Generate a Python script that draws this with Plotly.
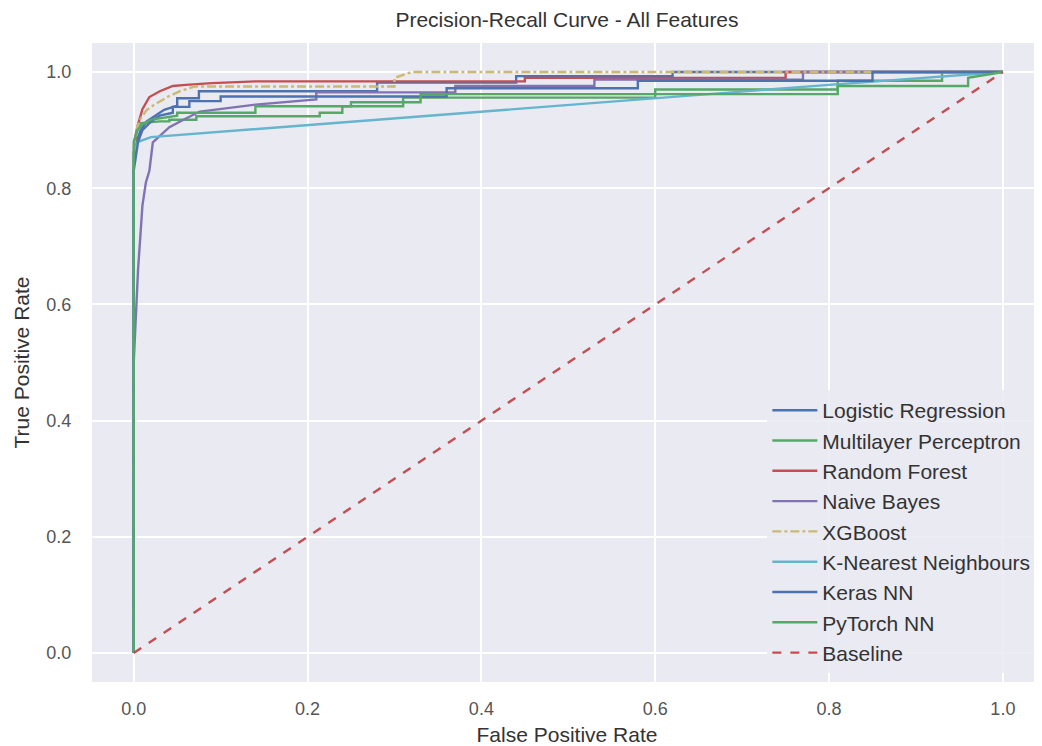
import plotly.graph_objects as go

# ---- data ----
lr_fpr = [0, 0, 0.003, 0.008, 0.015, 0.025, 0.035, 0.05, 0.05, 0.075, 0.075, 0.28, 0.28, 0.44, 0.44, 0.62, 0.62, 1.0]
lr_tpr = [0, 0.85, 0.88, 0.90, 0.915, 0.925, 0.935, 0.942, 0.955, 0.955, 0.967, 0.967, 0.982, 0.982, 0.993, 0.993, 1.0, 1.0]

mlp_fpr = [0, 0, 0.003, 0.008, 0.03, 0.041, 0.041, 0.072, 0.072, 0.214, 0.214, 0.24, 0.24, 0.31, 0.31, 0.6, 0.6, 0.81, 0.81, 0.93, 0.93, 1.0]
mlp_tpr = [0, 0.86, 0.895, 0.912, 0.915, 0.915, 0.918, 0.918, 0.924, 0.924, 0.93, 0.93, 0.941, 0.941, 0.956, 0.956, 0.97, 0.97, 0.985, 0.985, 1.0, 1.0]

rf_fpr = [0, 0, 0.002, 0.005, 0.01, 0.018, 0.03, 0.045, 0.06, 0.09, 0.14, 0.45, 0.45, 0.75, 0.75, 1.0]
rf_tpr = [0, 0.86, 0.89, 0.91, 0.936, 0.957, 0.967, 0.976, 0.978, 0.981, 0.984, 0.984, 0.99, 0.99, 1.0, 1.0]

nb_fpr = [0, 0, 0.005, 0.01, 0.014, 0.018, 0.022, 0.03, 0.041, 0.06, 0.076, 0.14, 0.21, 0.21, 0.37, 0.37, 0.53, 0.53, 0.77, 0.77, 1.0]
nb_tpr = [0, 0.5, 0.66, 0.77, 0.81, 0.83, 0.879, 0.89, 0.905, 0.92, 0.932, 0.944, 0.953, 0.965, 0.965, 0.976, 0.976, 0.987, 0.987, 1.0, 1.0]

xgb_fpr = [0, 0, 0.003, 0.008, 0.015, 0.025, 0.04, 0.055, 0.07, 0.3, 0.3, 0.32, 1.0]
xgb_tpr = [0, 0.87, 0.90, 0.92, 0.935, 0.945, 0.958, 0.968, 0.975, 0.975, 0.99, 1.0, 1.0]

knn_fpr = [0, 0, 0.005, 0.02, 0.8, 1.0]
knn_tpr = [0, 0.86, 0.88, 0.888, 0.978, 1.0]

keras_fpr = [0, 0, 0.005, 0.01, 0.02, 0.03, 0.045, 0.045, 0.064, 0.064, 0.1, 0.1, 0.36, 0.36, 0.58, 0.58, 0.85, 0.85, 1.0]
keras_tpr = [0, 0.83, 0.88, 0.90, 0.915, 0.925, 0.93, 0.94, 0.94, 0.95, 0.95, 0.958, 0.958, 0.972, 0.972, 0.985, 0.985, 1.0, 1.0]

pt_fpr = [0, 0, 0.004, 0.01, 0.02, 0.05, 0.05, 0.14, 0.14, 0.25, 0.25, 0.33, 0.33, 0.81, 0.81, 0.96, 0.96, 1.0]
pt_tpr = [0, 0.88, 0.90, 0.91, 0.918, 0.925, 0.93, 0.93, 0.941, 0.941, 0.948, 0.948, 0.962, 0.962, 0.976, 0.976, 0.99, 1.0]

base_fpr = [0, 1]
base_tpr = [0, 1]

x_ticks = [0.0, 0.2, 0.4, 0.6, 0.8, 1.0]
y_ticks = [0.0, 0.2, 0.4, 0.6, 0.8, 1.0]

series = [
    ("Logistic Regression", lr_fpr, lr_tpr, "#4C72B0", "solid"),
    ("Multilayer Perceptron", mlp_fpr, mlp_tpr, "#55A868", "solid"),
    ("Random Forest", rf_fpr, rf_tpr, "#C44E52", "solid"),
    ("Naive Bayes", nb_fpr, nb_tpr, "#8172B2", "solid"),
    ("XGBoost", xgb_fpr, xgb_tpr, "#CCB974", "dashdot"),
    ("K-Nearest Neighbours", knn_fpr, knn_tpr, "#64B5CD", "solid"),
    ("Keras NN", keras_fpr, keras_tpr, "#4C72B0", "solid"),
    ("PyTorch NN", pt_fpr, pt_tpr, "#55A868", "solid"),
    ("Baseline", base_fpr, base_tpr, "#C44E52", "dash"),
]

fig = go.Figure()
for name, xs, ys, color, dash in series:
    fig.add_trace(go.Scatter(x=xs, y=ys, mode="lines", name=name,
                             line=dict(color=color, width=2.4, dash=dash)))

font_family = "Liberation Sans, Arial, sans-serif"
W, H = 1034, 738
fig.update_layout(
    width=W, height=H,
    margin=dict(l=84, r=0, t=35, b=64),
    paper_bgcolor="white",
    plot_bgcolor="#EAEAF2",
    font=dict(family=font_family, color="#333333", size=18),
    title=dict(text="Precision-Recall Curve - All Features", x=0.5, xref="paper",
               y=1 - 12 / H, yref="container", yanchor="middle",
               font=dict(size=21, color="#333333")),
    legend=dict(x=0.993, y=0.014, xanchor="right", yanchor="bottom",
                bgcolor="rgba(234,234,242,0.85)", borderwidth=0, itemwidth=45,
                font=dict(size=21, color="#333333"), tracegroupgap=0),
    showlegend=True,
)
fig.update_xaxes(range=[-0.048, 1.045], tickvals=x_ticks, ticktext=[f"{v:.1f}" for v in x_ticks],
                 showgrid=True, gridcolor="white", gridwidth=1.6, zeroline=False,
                 showline=False, ticks="outside", ticklen=10, tickcolor="rgba(0,0,0,0)",
                 tickfont=dict(size=18, color="#555555"),
                 title=dict(text="False Positive Rate", font=dict(size=21, color="#333333"), standoff=10))
fig.update_yaxes(range=[-0.05, 1.05], tickvals=y_ticks, ticktext=[f"{v:.1f}" for v in y_ticks],
                 showgrid=True, gridcolor="white", gridwidth=1.6, zeroline=False,
                 showline=False, ticks="outside", ticklen=16, tickcolor="rgba(0,0,0,0)",
                 tickfont=dict(size=18, color="#555555"),
                 title=dict(text="True Positive Rate", font=dict(size=21, color="#333333"), standoff=11))

fig.write_html("out.html")
